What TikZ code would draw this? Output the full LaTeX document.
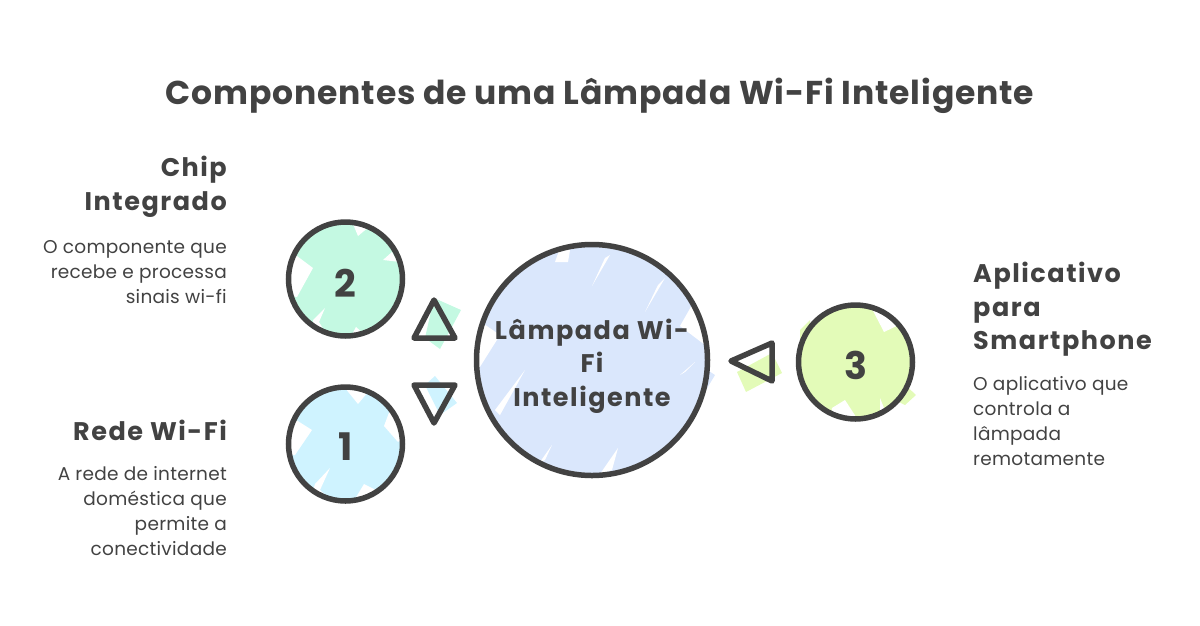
\documentclass[tikz,border=0pt]{standalone}
\usepackage{fontspec}
\setmainfont{Poppins}
\newfontfamily\titlefont[LetterSpace=2.5]{Poppins}
\newfontfamily\headfont[LetterSpace=6]{Poppins}
\newfontfamily\descfont[LetterSpace=1.5]{Poppins}
\definecolor{ink}{HTML}{424242}
\definecolor{gr}{HTML}{C4F9E2}
\definecolor{bl}{HTML}{CFF3FF}
\definecolor{mb}{HTML}{DAE7FC}
\definecolor{lm}{HTML}{E3FBB8}
\tikzset{
 x=1pt,y=-1pt,
 ring/.style={circle,draw=ink,line width=5.5pt,inner sep=0pt},
 digit/.style={text=ink,inner sep=0pt,font=\bfseries\fontsize{38}{38}\selectfont},
 arrowtri/.style={draw=ink,line width=5.5pt,line join=round},
 titletext/.style={text=ink,font=\titlefont\bfseries\fontsize{33}{33}\selectfont,inner sep=0pt},
 headtext/.style={text=ink,font=\headfont\bfseries\fontsize{25.5}{33.5}\selectfont,inner sep=0pt},
 desctext/.style={text=ink,font=\descfont\fontsize{18.5}{25}\selectfont,inner sep=0pt},
 hole/.style={fill=white,draw=none}
}
\begin{document}
\begin{tikzpicture}
\useasboundingbox (0,0) rectangle (1200,625);
% colour patches
\fill[gr] (345,279) circle (56);
\fill[hole] (293,253)--(313,268)--(297,297)--(284,295)--(284,253)--cycle;
\fill[hole] (353,224)--(358,236)--(370,226)--cycle;
\fill[hole] (383,260)--(392,252)--(404,274)--(400,262)--cycle;
\fill[hole] (313,320)--(325,308)--(319,322)--(330,340)--(313,340)--cycle;
\fill[hole] (350,338)--(356,327)--(364,334)--(366,340)--cycle;
\fill[bl] (345,444) circle (56);
\fill[hole] (293,418)--(312,430)--(295,455)--(284,455)--(284,418)--cycle;
\fill[hole] (345,388)--(358,404)--(368,392)--(362,384)--cycle;
\fill[hole] (384,426)--(398,442)--(404,436)--(390,410)--cycle;
\fill[hole] (315,484)--(330,468)--(320,490)--(335,504)--(310,500)--cycle;
\fill[hole] (352,504)--(364,484)--(376,490)--(372,504)--cycle;
\fill[mb] (592,360) circle (113);
\fill[mb] (700,365)--(715,375)--(700,400)--(690,395)--cycle;
\fill[hole] (478,320)--(500,335)--(478,370)--cycle;
\fill[hole] (555,262)--(568,262)--(570,250)--(560,248)--cycle;
\fill[hole] (592,286)--(610,255)--(605,258)--cycle;
\fill[hole] (645,312)--(665,278)--(658,285)--cycle;
\fill[hole] (680,326)--(705,345)--(706,330)--(692,305)--cycle;
\fill[hole] (680,375)--(695,362)--(685,372)--cycle;
\fill[hole] (495,410)--(525,370)--(500,415)--cycle;
\fill[hole] (540,462)--(552,445)--(545,460)--cycle;
\fill[hole] (600,474)--(618,448)--(612,470)--cycle;
\fill[lm] (855.5,362) circle (56);
\fill[lm] (800,330)--(810,320)--(815,370)--(800,375)--cycle;
\fill[lm] (900,380)--(916,395)--(905,405)--(895,400)--cycle;
\fill[hole] (870,305)--(884,332)--(905,322)--(915,340)--(900,300)--cycle;
\fill[hole] (832,408)--(845,400)--(858,420)--(830,420)--cycle;
\fill[hole] (880,398)--(884,408)--(880,414)--cycle;
\fill[gr] (434,298)--(461,310)--(440,349)--(425,338)--cycle;
\fill[bl] (435,376)--(457,403)--(440,415)--(425,385)--cycle;
\fill[lm] (737,372)--(746,392)--(782,373)--(772,353)--cycle;
% circles
\node[ring,minimum size=114pt] (two) at (345.5,279) {};
\node[ring,minimum size=114pt] (one) at (345.5,444) {};
\node[ring,minimum size=231pt] (hub) at (592,360) {};
\node[ring,minimum size=114pt] (three) at (855.5,362) {};
\node[digit] (twod) at (345.5,283) {2};
\node[digit] (oned) at (345.5,447) {1};
\node[digit] (threed) at (855.5,365) {3};
\node[headtext,align=center] (hubt) at (592,366) {Lâmpada Wi-\\Fi\\Inteligente};
% arrow triangles
\draw[arrowtri] (434,300)--(455,338)--(414,338)--cycle;
\draw[arrowtri] (414,385)--(455,385)--(434,423)--cycle;
\draw[arrowtri] (731,361)--(772,343)--(772,381)--cycle;
% texts
\node[titletext] (title) at (600,96) {Componentes de uma Lâmpada Wi-Fi Inteligente};
\node[headtext,anchor=north east,align=right] (h2) at (227,156) {Chip\\Integrado};
\node[desctext,anchor=north east,align=right] (d2) at (227,240) {O componente que\\recebe e processa\\sinais wi-fi};
\node[headtext,anchor=north east,align=right] (h1) at (227,420) {Rede Wi-Fi};
\node[desctext,anchor=north east,align=right] (d1) at (227,466) {A rede de internet\\doméstica que\\permite a\\conectividade};
\node[headtext,anchor=north west,align=left] (h3) at (973,262) {Aplicativo\\para\\Smartphone};
\node[desctext,anchor=north west,align=left] (d3) at (973,376) {O aplicativo que\\controla a\\lâmpada\\remotamente};
\end{tikzpicture}
\end{document}
